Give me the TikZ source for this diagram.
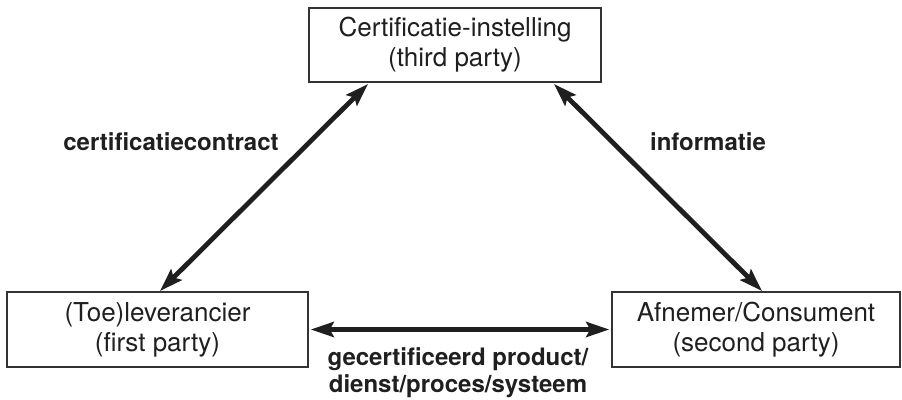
\documentclass[tikz,border=0pt]{standalone}
\usepackage{fontspec}
\setmainfont{TeX Gyre Heros}
\usetikzlibrary{arrows.meta}
\begin{document}
\begin{tikzpicture}[x=1pt,y=-1pt,
  party/.style={draw=black!80,line width=1.4pt,inner sep=0pt,align=center,
    text=black!88,font=\fontsize{26}{30}\selectfont},
  link/.style={line width=4.8pt,black!88,{Stealth[length=23pt,width=15pt,inset=4pt]}-{Stealth[length=23pt,width=15pt,inset=4pt]}},
  lbl/.style={font=\bfseries\fontsize{24}{27}\selectfont,text=black!88,align=center,inner sep=0pt}]
\useasboundingbox (0,0) rectangle (902,399);
% the three parties
\node[party,minimum width=292pt,minimum height=74pt] (cert) at (455,45) {Certificatie-instelling\\(third party)};
\node[party,minimum width=301pt,minimum height=75pt] (sup) at (157.5,329.5) {(Toe)leverancier\\(first party)};
\node[party,minimum width=288pt,minimum height=75pt] (cons) at (756,329.5) {Afnemer/Consument\\(second party)};
% relations
\coordinate (c1) at (368,84);
\coordinate (c2) at (554,84);
\coordinate (s1) at (160,291);
\coordinate (k1) at (762,291);
\draw[link] (s1) -- (c1);
\draw[link] (k1) -- (c2);
\draw[link,shorten <=2pt,shorten >=2pt] (sup.east) -- (cons.west);
% labels
\node[lbl] (l1) at (171,142) {certificatiecontract};
\node[lbl] (l2) at (708,142) {informatie};
\node[lbl] (l3) at (458,373) {gecertificeerd product/\\dienst/proces/systeem};
\end{tikzpicture}
\end{document}
